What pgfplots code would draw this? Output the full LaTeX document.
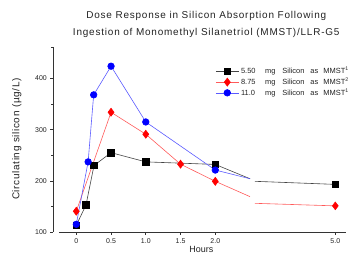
\documentclass[border=0pt]{standalone}
\usepackage{fontspec}
\setmainfont{Liberation Sans}
\usepackage{pgfplots}
\pgfplotsset{compat=1.18}
\definecolor{txt}{HTML}{222222}
\definecolor{axc}{HTML}{333333}
\definecolor{blkline}{HTML}{444444}
\definecolor{redline}{HTML}{FF5A5A}
\definecolor{blueline}{HTML}{5A5AFF}
\newfontfamily\spaced[LetterSpace=6.5]{Liberation Sans}
\newfontfamily\spacedT[LetterSpace=8]{Liberation Sans}
\begin{document}
\begin{tikzpicture}
\begin{axis}[
  scale only axis, width=292.7bp, height=184.7bp,
  xmin=-0.331, xmax=3.881, ymin=100, ymax=461,
  axis x line*=bottom, axis y line*=left,
  x axis line style={draw=none},
  y axis line style={axc, line width=0.6pt},
  clip=false,
  xtick={0,0.5,1,1.5,2,3.727},
  xticklabels={0,0.5,1.0,1.5,2.0,5.0},
  ytick={100,200,300,400},
  minor ytick={150,250,350,461},
  tick align=outside,
  major tick length=3bp, minor tick length=2bp,
  tick style={axc, line width=0.6pt},
  ticklabel style={font=\fontsize{7}{8}\selectfont, text=txt},
  /pgf/number format/assume math mode=true,
  legend style={at={(axis cs:2.0,426)}, anchor=north west, draw=none, fill=none,
    font=\fontsize{7.5}{9}\selectfont, text=txt, inner sep=0pt,
    row sep=-1.4bp, cells={anchor=west}},
  legend image code/.code={\draw[mark repeat=2,mark phase=2] plot coordinates {(0bp,0bp) (11.5bp,0bp) (23bp,0bp)};},
]
\addplot[blkline, line width=0.6pt, mark=square*, mark size=3.3bp, mark options={solid, fill=black, draw=black}]
  coordinates {(0,113) (0.14,153) (0.255,230) (0.5,255) (1.0,237) (2.0,232)};
\addlegendentry{\makebox[24bp][l]{5.50}mg\hspace{7bp}Silicon\hspace{6bp}as\hspace{5bp}MMST\textsuperscript{1}}
\addplot[redline, line width=0.6pt, mark=diamond*, mark size=4bp, mark options={solid, fill=red, draw=red}]
  coordinates {(0,140.5) (0.5,334) (1.0,291) (1.5,232.5) (2.0,199)};
\addlegendentry{\makebox[24bp][l]{8.75}mg\hspace{7bp}Silicon\hspace{6bp}as\hspace{5bp}MMST\textsuperscript{2}}
\addplot[blueline, line width=0.6pt, mark=*, mark size=3.3bp, mark options={solid, fill=blue, draw=blue}]
  coordinates {(0,115) (0.17,237) (0.25,368) (0.5,424) (1.0,315) (2.0,221)};
\addlegendentry{\makebox[24bp][l]{11.0}mg\hspace{7bp}Silicon\hspace{6bp}as\hspace{5bp}MMST\textsuperscript{1}}
% broken segments beyond 2 h
\addplot[blkline, line width=0.6pt, unbounded coords=jump, forget plot]
  coordinates {(2.0,232) (2.5,204) (2.53,nan) (2.57,199) (3.727,193)};
\addplot[redline, line width=0.6pt, unbounded coords=jump, forget plot]
  coordinates {(2.0,199) (2.5,169) (2.53,nan) (2.57,156) (3.727,151)};
\addplot[blueline, line width=0.6pt, forget plot]
  coordinates {(2.0,221) (2.5,204)};
\addplot[only marks, mark=square*, mark size=3.3bp, mark options={fill=black, draw=black}, forget plot]
  coordinates {(3.727,193)};
\addplot[only marks, mark=diamond*, mark size=4bp, mark options={fill=red, draw=red}, forget plot]
  coordinates {(3.727,151)};
% x axis line (detached from y axis)
\draw[axc, line width=0.6pt] (axis cs:-0.25,100) -- (axis cs:3.881,100);
% titles
\node[align=center, font=\spacedT\fontsize{10}{17}\selectfont, text=txt] at (axis cs:1.87,506.5)
  {Dose Response in Silicon Absorption Following\\Ingestion of Monomethyl Silanetriol (MMST)/LLR-G5};
\node[rotate=90, font=\spaced\fontsize{10}{11}\selectfont, text=txt] at (axis cs:-0.858,281.4) {Circulating silicon (µg/L)};
\node[anchor=north, font=\fontsize{9}{11}\selectfont, text=txt, inner sep=0pt] at (axis cs:1.801,72) {Hours};
\coordinate (bl) at (axis cs:-1.098,54.4);
\coordinate (tr) at (axis cs:3.953,553.4);
\end{axis}
\pgfresetboundingbox
\useasboundingbox (bl) rectangle (tr);
\end{tikzpicture}
\end{document}
